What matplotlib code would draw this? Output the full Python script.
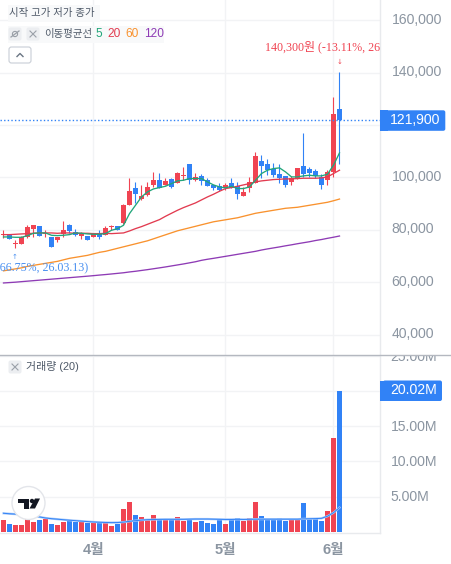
#!/usr/bin/env python

import matplotlib

matplotlib.use("Agg")
import matplotlib.pyplot as plt
from matplotlib.patches import Circle, FancyBboxPatch, Polygon, Rectangle
from matplotlib.ticker import FuncFormatter
from matplotlib.transforms import Bbox, ScaledTranslation

plt.rcParams["font.family"] = ["Liberation Sans", "Noto Sans CJK KR"]

# Daily candles, oldest first.
opens = [78200, 78500, 74600, 74500, 77300, 80200, 81400, 78600, 77200, 76000,
         78600, 81900, 79300, 77600, 77800, 77200, 78600, 78200, 81000, 81400,
         82600, 89600, 95900, 91700, 93200, 97000, 98900, 97300, 99300, 97900,
         100600, 105000, 98900, 100500, 98900, 97000, 96600, 95800, 98000, 96800,
         92800, 96000, 98000, 106200, 105000, 103400, 101200, 100500, 98200, 99700,
         104300, 103100, 102400, 100100, 98900, 102000, 126000]
highs = [80100, 78600, 76000, 77600, 81900, 81800, 81400, 79900, 77300, 77300,
         83400, 82400, 80200, 79100, 77800, 79000, 79900, 81400, 81900, 81600,
         89800, 99700, 98200, 97000, 98200, 102000, 101600, 99900, 99700, 102000,
         103800, 105000, 101600, 101200, 99700, 97300, 97800, 97700, 99600, 98300,
         96400, 100200, 109700, 108500, 106900, 105500, 105000, 100500, 100700, 103500,
         116900, 103900, 103100, 101200, 102700, 130600, 140300]
lows = [77100, 76400, 73100, 74500, 77100, 77300, 77600, 77300, 73500, 75300,
        77300, 79000, 77700, 76400, 76200, 77200, 76700, 77900, 79900, 79900,
        82400, 89400, 90300, 91300, 92800, 96400, 95900, 97000, 96100, 97800,
        98900, 97400, 98700, 97000, 96600, 95100, 94900, 95400, 96100, 91700,
        92800, 94400, 97700, 99600, 100800, 100100, 97900, 96400, 97000, 99400,
        100000, 100000, 99900, 95500, 97000, 100200, 105000]
closes = [78600, 76400, 74900, 77200, 81000, 81800, 77600, 78800, 73500, 77200,
          80100, 79500, 78100, 78500, 76200, 78700, 77200, 80600, 81300, 80100,
          89400, 94700, 93700, 92800, 96300, 98900, 96100, 98500, 96400, 101600,
          100800, 99100, 100100, 98500, 96800, 95900, 95100, 97000, 96100, 93600,
          94400, 98400, 108100, 104300, 102700, 100800, 99700, 97000, 99600, 103500,
          101200, 101500, 100500, 97000, 102000, 124100, 121900]

ma5 = [77310, 77310, 77180, 77180, 77820, 78710, 78840, 78840, 77950, 77820,
       77950, 78200, 78840, 78710, 78460, 78330, 78330, 78580, 79850, 80490,
       81760, 86210, 89390, 92570, 94480, 95620, 96130, 96640, 97660, 98680,
       98930, 99570, 99570, 99570, 98300, 97150, 96390, 96010, 96640, 95750,
       95750, 96390, 98930, 101480, 102750, 103380, 103640, 102110, 100200, 100200,
       100590, 100840, 100590, 100590, 101220, 104660, 109360]
ma20 = [78200, 78200, 78330, 78460, 78580, 78710, 78840, 78840, 78840, 78710,
        78840, 78840, 78710, 78710, 78710, 78580, 78580, 78710, 78580, 78710,
        78840, 79600, 80490, 81250, 82140, 83030, 83920, 85190, 86340, 87480,
        88500, 89390, 90280, 91430, 92570, 93590, 94730, 95750, 96130, 96640,
        97150, 97660, 98300, 98680, 98930, 99190, 99310, 99440, 99440, 99570,
        99690, 99690, 99690, 99820, 100200, 101480, 102750]
ma60 = [64390, 64770, 65150, 65530, 66100, 66490, 66870, 67250, 67630, 68010,
        68590, 69160, 69540, 69920, 70300, 70880, 71450, 71830, 72400, 72980,
        73550, 74120, 74690, 75270, 75840, 76600, 77370, 78130, 78890, 79650,
        80230, 80800, 81370, 81950, 82520, 83090, 83470, 83850, 84240, 84620,
        85190, 85760, 86330, 86720, 87100, 87480, 87860, 88240, 88430, 88630,
        89010, 89390, 89770, 90150, 90530, 91110, 91760]
ma120 = [59770, 59920, 60070, 60270, 60460, 60650, 60840, 61030, 61220, 61410,
         61600, 61790, 61980, 62170, 62360, 62560, 62780, 62980, 63200, 63430,
         63660, 63970, 64230, 64540, 64850, 65190, 65530, 65880, 66260, 66640,
         67020, 67440, 67860, 68400, 68810, 69160, 69540, 69920, 70300, 70690,
         71070, 71450, 71830, 72330, 72750, 73130, 73510, 73930, 74310, 74730,
         75110, 75490, 75950, 76330, 76790, 77210, 77670]

# Volume in millions of shares.
volumes = [1.62, 1.05, 0.90, 0.90, 1.76, 1.33, 1.62, 1.76, 1.05, 0.90,
           1.33, 1.62, 1.33, 1.33, 1.19, 1.19, 1.19, 1.19, 0.76, 1.05,
           3.19, 4.19, 2.33, 2.05, 1.62, 2.33, 1.76, 1.62, 1.76, 2.05,
           1.48, 1.76, 1.33, 1.48, 1.19, 1.05, 1.86, 1.05, 1.62, 2.00,
           1.48, 1.90, 4.19, 2.19, 1.76, 1.76, 1.90, 1.48, 1.62, 1.62,
           4.05, 1.86, 1.86, 1.48, 2.90, 13.30, 20.02]
volume_ma = [2.62, 2.55, 2.50, 2.42, 2.35, 2.25, 2.10, 1.95, 1.85, 1.78,
             1.70, 1.63, 1.57, 1.50, 1.44, 1.38, 1.34, 1.31, 1.29, 1.30,
             1.36, 1.47, 1.57, 1.65, 1.71, 1.73, 1.75, 1.76, 1.76, 1.76,
             1.76, 1.78, 1.80, 1.80, 1.80, 1.78, 1.76, 1.74, 1.74, 1.76,
             1.74, 1.76, 1.78, 1.78, 1.78, 1.78, 1.78, 1.78, 1.78, 1.78,
             1.82, 1.84, 1.86, 1.90, 2.20, 2.70, 3.43]

price_ticks = [40000, 60000, 80000, 100000, 120000, 140000, 160000]
volume_ticks = [5, 10, 15, 20, 25]
month_positions = [15, 37, 55]
month_labels = ["4월", "5월", "6월"]
last_price = 121900
high_index = 56
low_index = 2

UP = "#f04452"
DOWN = "#3182f6"
GRID = "#f2f3f5"
TEXT = "#8b95a1"
DARK = "#4e5968"
W, H = 452, 564
PANE_RIGHT, PANE_SPLIT, PANE_BOTTOM = 380, 354.5, 533

fig = plt.figure(figsize=(W / 100, H / 100), dpi=100, facecolor="white")
price_ax = fig.add_axes([0, 1 - PANE_SPLIT / H, PANE_RIGHT / W, PANE_SPLIT / H])
volume_ax = fig.add_axes(
    [0, 1 - PANE_BOTTOM / H, PANE_RIGHT / W, (PANE_BOTTOM - PANE_SPLIT) / H]
)

n = len(closes)
xs = list(range(n))
colors = [UP if c >= o else DOWN for o, c in zip(opens, closes)]
x_limits = (-0.583, 62.75)

# Candles: wick first, then a body that never gets thinner than a pixel.
price_ax.vlines(xs, lows, highs, colors=colors, linewidth=0.8, zorder=3)
body_low = [min(o, c) for o, c in zip(opens, closes)]
body_height = [max(abs(c - o), 400) for o, c in zip(opens, closes)]
price_ax.bar(xs, body_height, bottom=body_low, width=0.8, color=colors, linewidth=0, zorder=3)

for series, color in [
    (ma120, "#8e3bb5"),
    (ma60, "#f9922e"),
    (ma20, "#e23b50"),
    (ma5, "#21a67a"),
]:
    price_ax.plot(xs, series, color=color, linewidth=0.95, zorder=4)

price_ax.axhline(last_price, color=DOWN, linewidth=1.0, linestyle=(0, (1, 1.6)), zorder=5)

price_ax.set_xlim(*x_limits)
price_ax.set_ylim(32500, 167640)
price_ax.set_yticks(price_ticks)
# The last-price tag takes the place of the nearest round label.
price_ax.yaxis.set_major_formatter(
    FuncFormatter(lambda v, _: "" if v == 120000 else f"{int(v):,}")
)

# Extreme-price notes sit above and below their candles and get cut by the pane.
note_font = ["Liberation Serif", "Noto Sans CJK KR"]
price_ax.annotate(
    f"{highs[high_index]:,}원 (-13.11%, 26.05.29)",
    xy=(high_index, highs[high_index]),
    xytext=(0, 25),
    textcoords="offset pixels",
    ha="center",
    va="center",
    color=UP,
    fontsize=8.65,
    family=note_font,
    annotation_clip=False,
    clip_on=True,
    zorder=6,
)
price_ax.annotate(
    "↓",
    xy=(high_index, highs[high_index]),
    xytext=(0, 10),
    textcoords="offset pixels",
    ha="center",
    va="center",
    color=UP,
    fontsize=5,
    family=["DejaVu Sans"],
    zorder=6,
)
price_ax.annotate(
    f"{lows[low_index]:,}원 (+66.75%, 26.03.13)",
    xy=(low_index, lows[low_index]),
    xytext=(0, -18.5),
    textcoords="offset pixels",
    ha="center",
    va="center",
    color="#4a90f0",
    fontsize=8.65,
    family=note_font,
    annotation_clip=False,
    clip_on=True,
    zorder=6,
)
price_ax.annotate(
    "↑",
    xy=(low_index, lows[low_index]),
    xytext=(-1, -9),
    textcoords="offset pixels",
    ha="center",
    va="center",
    color="#4a90f0",
    fontsize=5,
    family=["DejaVu Sans"],
    zorder=6,
)

volume_ax.bar(xs, volumes, width=0.82, color=colors, linewidth=0, zorder=3)
volume_ax.plot(xs, volume_ma, color="#a9cbfb", linewidth=1.6, zorder=4)
volume_ax.plot(xs, volume_ma, color=DOWN, linewidth=0.7, zorder=5)
volume_ax.set_xlim(*x_limits)
volume_ax.set_ylim(-0.19, 25.24)
volume_ax.set_yticks(volume_ticks)
volume_ax.yaxis.set_major_formatter(
    FuncFormatter(lambda v, _: "" if v == 20 else f"{v:.2f}M")
)
volume_ax.set_xticks(month_positions)
volume_ax.set_xticklabels(month_labels, fontsize=10.5, fontweight="bold", color=TEXT)
volume_ax.tick_params(axis="x", length=0, pad=7)

price_ax.set_xticks(month_positions)
price_ax.tick_params(axis="x", length=0, labelbottom=False)

for ax, y_pad in ((price_ax, 8.3), (volume_ax, 7.6)):
    ax.grid(True, color=GRID, linewidth=1.0, zorder=0)
    ax.set_axisbelow(True)
    ax.yaxis.tick_right()
    ax.tick_params(axis="y", length=0, pad=y_pad, labelsize=10.1, labelcolor=TEXT)
    for side in ("left", "top", "bottom"):
        ax.spines[side].set_visible(False)
    ax.spines["right"].set_color("#e8eaed")
    ax.spines["right"].set_linewidth(1.0)
    ax.set_facecolor("white")

volume_ax.spines["bottom"].set_visible(True)
volume_ax.spines["bottom"].set_color("#e8eaed")
volume_ax.spines["bottom"].set_linewidth(1.0)

fig.canvas.draw()
# Nudge axis labels up a little; the top volume label is cut by the divider.
for ax, lift in ((price_ax, 1.9), (volume_ax, 1.0)):
    for label in ax.yaxis.get_ticklabels():
        label.set_transform(label.get_transform() + ScaledTranslation(0, lift / 100, fig.dpi_scale_trans))
for label in volume_ax.yaxis.get_ticklabels():
    label.set_clip_on(True)
    label.set_clip_box(Bbox([[0, 0], [W, H - PANE_SPLIT]]))

# Overlay in pixel coordinates for tags, legend chrome and the logo.
ui = fig.add_axes([0, 0, 1, 1], zorder=10)
ui.set_xlim(0, W)
ui.set_ylim(H, 0)
ui.axis("off")
ui.patch.set_alpha(0)

ui.plot([0, W], [PANE_SPLIT, PANE_SPLIT], color="#b4b8c0", linewidth=1.0)


def value_tag(text, y, right):
    ui.add_patch(
        FancyBboxPatch(
            (383, y - 10), right - 383, 20.5,
            boxstyle="round,pad=0,rounding_size=2",
            facecolor=DOWN, edgecolor="none",
        )
    )
    ui.add_patch(Rectangle((380, y - 10), 8, 20.5, facecolor=DOWN, edgecolor="none"))
    ui.text(390.3, y - 0.5, text, color="white", fontsize=10.1, ha="left", va="center")


value_tag(f"{last_price:,}", 120.3, 445.3)
value_tag(f"{volumes[-1]:.2f}M", 390.5, 442)


def icon_box(cx, cy):
    ui.add_patch(
        FancyBboxPatch(
            (cx - 6.5, cy - 6.5), 13, 13,
            boxstyle="round,pad=0,rounding_size=2",
            facecolor="#eceef1", edgecolor="none",
        )
    )


def cross_icon(cx, cy):
    icon_box(cx, cy)
    ui.plot([cx - 3, cx + 3], [cy - 3, cy + 3], color="#9aa0a8", linewidth=0.8)
    ui.plot([cx - 3, cx + 3], [cy + 3, cy - 3], color="#9aa0a8", linewidth=0.8)


# Header strip
ui.add_patch(Rectangle((8, 5), 92, 17, facecolor="#f8f9fa", edgecolor="none"))
ui.add_patch(Rectangle((8, 26), 156, 17, facecolor="#f8f9fa", edgecolor="none"))
ui.text(9, 13, "시작 고가 저가 종가", fontsize=7.5, color=DARK, ha="left", va="center")

icon_box(15, 34)
ui.plot([11, 19], [37, 31], color="#9aa0a8", linewidth=0.9)
ui.add_patch(Circle((15, 34), 2.6, facecolor="none", edgecolor="#9aa0a8", linewidth=0.8))
cross_icon(33, 34)
ui.text(44.5, 34, "이동평균선", fontsize=7.5, color=DARK, ha="left", va="center")
for period, x, color in [
    ("5", 96, "#21a67a"),
    ("20", 107, "#e23b50"),
    ("60", 125, "#f9922e"),
    ("120", 144, "#8e3bb5"),
]:
    ui.text(x, 34, period, fontsize=8.6, color=color, ha="left", va="center")

ui.add_patch(
    FancyBboxPatch(
        (9, 47), 22, 16,
        boxstyle="round,pad=0,rounding_size=2.5",
        facecolor="white", edgecolor="#c9ced6", linewidth=0.8,
    )
)
ui.plot([17, 20, 23], [56.5, 53.5, 56.5], color="#6b7684", linewidth=1.0)

# Volume legend
cross_icon(15, 367)
ui.text(26, 367, "거래량 (20)", fontsize=7.9, color=DARK, ha="left", va="center")

# Logo badge
ui.add_patch(Circle((28.5, 503), 16.5, facecolor="white", edgecolor="#e3e5ea", linewidth=1.0))
ui.add_patch(Polygon([(18, 498.5), (29, 498.5), (29, 508.5), (24, 508.5), (24, 503), (18, 503)],
                     facecolor="#131722", edgecolor="none"))
ui.add_patch(Circle((32, 501), 2.2, facecolor="#131722", edgecolor="none"))
ui.add_patch(Polygon([(35, 498.5), (40, 498.5), (35, 508.5), (29.5, 508.5)],
                     facecolor="#131722", edgecolor="none"))

fig.savefig("out.png", dpi=100, facecolor="white")
